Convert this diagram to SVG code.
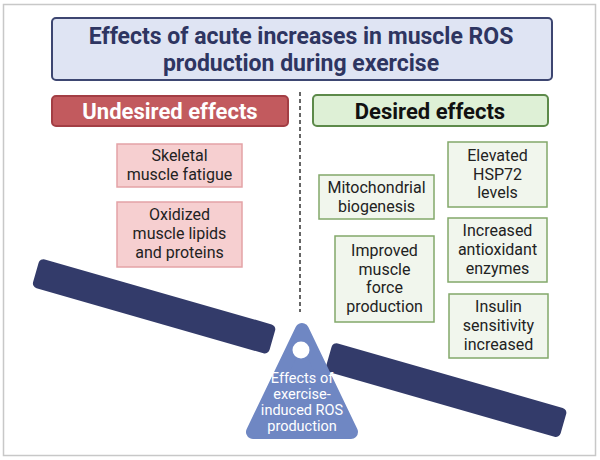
<svg xmlns="http://www.w3.org/2000/svg" width="600" height="460" viewBox="0 0 600 460">
<style>
.t{font-family:Roboto,"Liberation Sans",sans-serif;text-anchor:middle}
.box{font-size:16px;fill:#222}
.red{fill:#f6cfd0;stroke:#e4a3a6;stroke-width:1.5}
.grn{fill:#f1f6ed;stroke:#82a86a;stroke-width:1.5}
.beam{fill:#333b6a}
</style>
<rect x="0" y="0" width="600" height="460" fill="#fff"/>
<rect x="3.5" y="4.5" width="592" height="451" fill="none" stroke="#c8c8c8" stroke-width="1.5"/>
<g id="title">
<rect x="52" y="18" width="500" height="62" rx="4" fill="#dfe4f3" stroke="#3d4671" stroke-width="2"/>
<text class="t" x="301" y="44" font-size="23" font-weight="bold" fill="#2e3561">Effects of acute increases in muscle ROS</text>
<text class="t" x="301" y="71" font-size="23" font-weight="bold" fill="#2e3561">production during exercise</text>
</g>
<g id="undesired-header">
<rect x="52" y="96" width="236" height="30" rx="4" fill="#c25a5e" stroke="#a33e44" stroke-width="2"/>
<text class="t" x="170" y="119" font-size="22" font-weight="bold" fill="#fff">Undesired effects</text>
</g>
<g id="desired-header">
<rect x="313" y="95" width="235" height="31" rx="4" fill="#def0d6" stroke="#5d8a4a" stroke-width="2"/>
<text class="t" x="430" y="119" font-size="22" font-weight="bold" fill="#111">Desired effects</text>
</g>
<g id="divider">
<line x1="300" y1="92" x2="300" y2="312" stroke="#333" stroke-width="1.5" stroke-dasharray="4 3"/>
</g>
<g id="fatigue">
<rect class="red" x="117" y="144" width="125" height="43"/>
<text class="t box" x="179.5" y="161">Skeletal</text>
<text class="t box" x="179.5" y="180">muscle fatigue</text>
</g>
<g id="oxidized">
<rect class="red" x="117" y="202" width="125" height="65"/>
<text class="t box" x="179.5" y="220">Oxidized</text>
<text class="t box" x="179.5" y="239">muscle lipids</text>
<text class="t box" x="179.5" y="258">and proteins</text>
</g>
<g id="mito">
<rect class="grn" x="319" y="175" width="115" height="44"/>
<text class="t box" x="376.5" y="193">Mitochondrial</text>
<text class="t box" x="376.5" y="212">biogenesis</text>
</g>
<g id="hsp72">
<rect class="grn" x="448" y="142" width="99" height="65"/>
<text class="t box" x="497.5" y="161">Elevated</text>
<text class="t box" x="497.5" y="180">HSP72</text>
<text class="t box" x="497.5" y="198">levels</text>
</g>
<g id="force">
<rect class="grn" x="335" y="236" width="99" height="86"/>
<text class="t box" x="384.5" y="256">Improved</text>
<text class="t box" x="384.5" y="275">muscle</text>
<text class="t box" x="384.5" y="293">force</text>
<text class="t box" x="384.5" y="312">production</text>
</g>
<g id="antioxidant">
<rect class="grn" x="448" y="218" width="99" height="64"/>
<text class="t box" x="497.5" y="236">Increased</text>
<text class="t box" x="497.5" y="255">antioxidant</text>
<text class="t box" x="497.5" y="274">enzymes</text>
</g>
<g id="insulin">
<rect class="grn" x="449" y="294" width="99" height="64"/>
<text class="t box" x="498.5" y="312">Insulin</text>
<text class="t box" x="498.5" y="331">sensitivity</text>
<text class="t box" x="498.5" y="350">increased</text>
</g>
<g id="scale">
<rect class="beam" x="0" y="0" width="246" height="30" rx="5" transform="translate(40,258) rotate(16)"/>
<rect class="beam" x="0" y="0" width="244" height="30" rx="5" transform="translate(333,342) rotate(16)"/>
<polygon points="302,330 253,432 351,432" fill="#6f87c3" stroke="#6f87c3" stroke-width="14" stroke-linejoin="round"/>
<circle cx="301" cy="350" r="8.5" fill="#fff"/>
<text class="t" x="302" y="383" font-size="14.5" fill="#fff">Effects of</text>
<text class="t" x="302" y="399" font-size="14.5" fill="#fff">exercise-</text>
<text class="t" x="302" y="415" font-size="14.5" fill="#fff">induced ROS</text>
<text class="t" x="302" y="431" font-size="14.5" fill="#fff">production</text>
</g>
</svg>
